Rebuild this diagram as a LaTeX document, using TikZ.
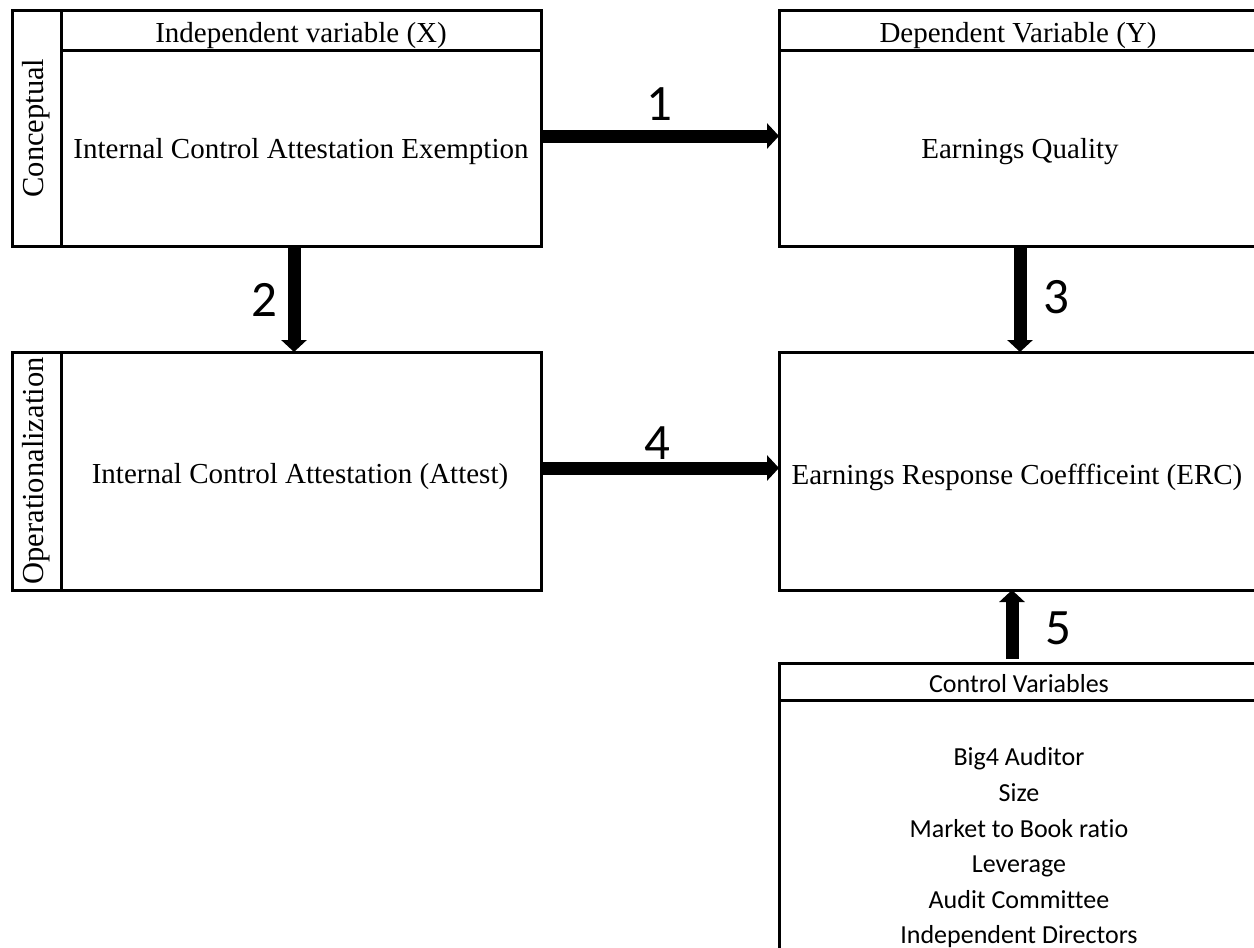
\documentclass[tikz,border=0pt]{standalone}
\usepackage{fontspec}
\setmainfont{Liberation Serif}
\newfontfamily\calfont[Ligatures=NoCommon]{Carlito}
\usetikzlibrary{arrows.meta}
\tikzset{
  box/.style={draw=black, line width=3pt, inner sep=0pt, outer sep=0pt, anchor=center},
  tnr/.style={font=\fontsize{29}{34}\selectfont, inner sep=0pt},
  side/.style={font=\fontsize{30.5}{34}\selectfont, inner sep=0pt, rotate=90},
  num/.style={font=\calfont\fontsize{51}{55}\selectfont, inner sep=0pt},
  arr/.style={line width=13pt, -{Triangle[width=25pt,length=12pt]}},
}
\begin{document}
\begin{tikzpicture}[x=1pt,y=-1pt]
\useasboundingbox (0,0) rectangle (1254,948);
\clip (0,0) rectangle (1254,948);
% top-left
\node[box, minimum width=49pt, minimum height=236pt] (c1) at (36.5,128) {};
\node[side] (c1t) at (c1.center) {Conceptual};
\node[box, minimum width=480pt, minimum height=40pt] (h1) at (301,30) {};
\node[tnr] (h1t) at (301,36) {Independent variable (X)};
\node[box, minimum width=480pt, minimum height=196pt] (x1) at (301,148) {};
\node[tnr] (x1t) at (301,152) {Internal Control Attestation Exemption};
% top-right
\node[box, minimum width=478pt, minimum height=40pt] (h2) at (1018,30) {};
\node[tnr] (h2t) at (1018,36) {Dependent Variable (Y)};
\node[box, minimum width=478pt, minimum height=196pt] (y1) at (1018,148) {};
\node[tnr] (y1t) at (1020,152) {Earnings Quality};
% bottom-left
\node[box, minimum width=49pt, minimum height=238pt] (o1) at (36.5,471) {};
\node[side] (o1t) at (o1.center) {Operationalization};
\node[box, minimum width=480pt, minimum height=238pt] (x2) at (301,471) {};
\node[tnr] (x2t) at (300,477) {Internal Control Attestation (Attest)};
% bottom-right
\node[box, minimum width=478pt, minimum height=238pt] (y2) at (1018,471) {};
\node[tnr] (y2t) at (1017,477) {Earnings Response Coeffficeint (ERC)};
% control variables
\node[box, font=\calfont\fontsize{26}{30}\selectfont, minimum width=478pt, minimum height=37pt] (h3) at (1018,681.5) {};
\node[font=\calfont\fontsize{26}{30}\selectfont, inner sep=0pt] (h3t) at (1019,684) {Control Variables};
\node[box, minimum width=478pt, minimum height=260pt] (cv) at (1018,830) {};
\node[font=\calfont\fontsize{26}{35.6}\selectfont, align=center, inner sep=0pt] (cvt) at (1019,848)
  {Big4 Auditor\\Size\\Market to Book ratio\\Leverage\\Audit Committee\\Independent Directors};
% arrows
\draw[arr] ([yshift=12pt]x1.east) -- ([yshift=12pt]y1.west);
\draw[arr] ([xshift=-7pt]x1.south) -- ([xshift=-7pt]x2.north);
\draw[arr] ([xshift=2pt]y1.south) -- ([xshift=2pt]y2.north);
\draw[arr] ([yshift=3pt]x2.east) -- ([yshift=3pt]y2.west);
\draw[arr, shorten <=4pt] ([xshift=-6pt]h3.north) -- ([xshift=-6pt]y2.south);
% labels
\node[num] (n1) at (659,104) {1};
\node[num] (n2) at (264,300) {2};
\node[num] (n3) at (1056,297) {3};
\node[num] (n4) at (657,443) {4};
\node[num] (n5) at (1058,628) {5};
\end{tikzpicture}
\end{document}
